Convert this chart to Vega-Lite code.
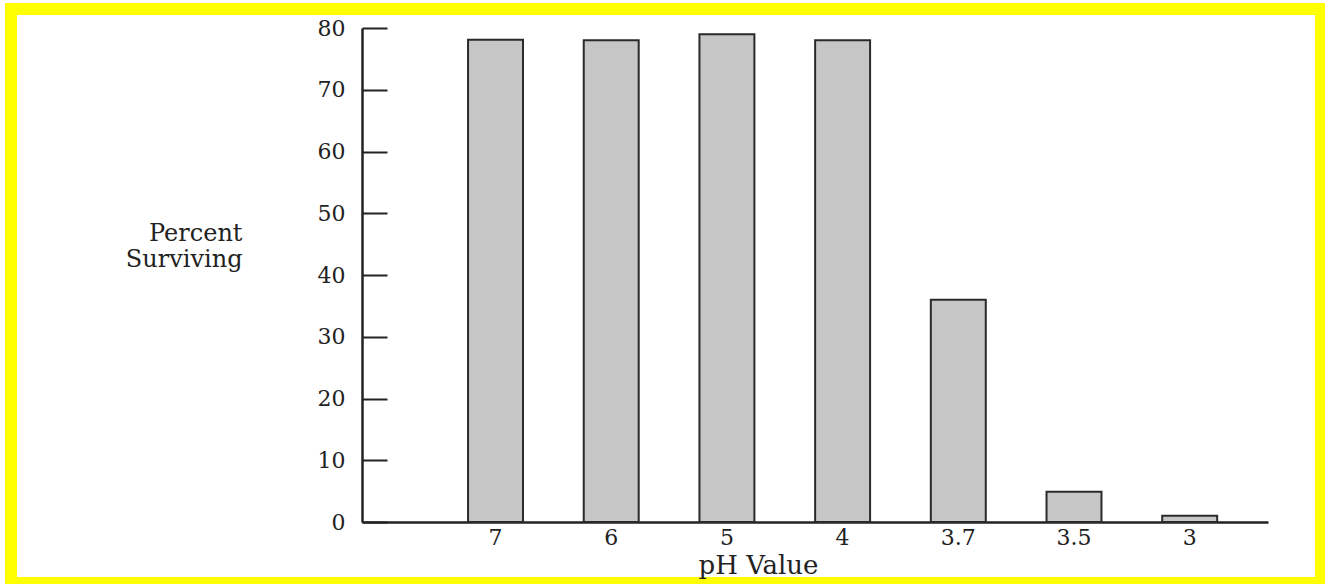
{
  "$schema": "https://vega.github.io/schema/vega-lite/v6.json",
  "width": 1310,
  "height": 574,
  "autosize": {"type": "none"},
  "padding": {"left": 11, "top": 9, "right": 4, "bottom": 1},
  "background": "white",
  "config": {
    "view": {"stroke": "#ffff00", "strokeWidth": 12, "fill": "white"},
    "axis": {
      "labelFont": "DejaVu Serif",
      "titleFont": "DejaVu Serif",
      "labelColor": "#222222",
      "titleColor": "#222222",
      "domainColor": "#222222",
      "tickColor": "#222222",
      "grid": false
    }
  },
  "data": {
    "values": [
      {"ph": "7", "pct": 78.1},
      {"ph": "6", "pct": 78},
      {"ph": "5", "pct": 79},
      {"ph": "4", "pct": 78},
      {"ph": "3.7", "pct": 36},
      {"ph": "3.5", "pct": 4.9},
      {"ph": "3", "pct": 1}
    ]
  },
  "mark": {"type": "bar", "fill": "#c6c6c6", "stroke": "#2a2a2a", "strokeWidth": 2},
  "encoding": {
    "x": {
      "field": "ph",
      "type": "nominal",
      "sort": ["7", "6", "5", "4", "3.7", "3.5", "3"],
      "scale": {"range": [351, 1257], "paddingInner": 0.525, "paddingOuter": 0.678, "align": 0.676},
      "axis": {
        "orient": "bottom",
        "offset": -61,
        "ticks": false,
        "domainWidth": 2.5,
        "labelAngle": 0,
        "labelPadding": 5,
        "labelFontSize": 22,
        "title": "pH Value",
        "titleFontSize": 26,
        "titleFontWeight": "normal",
        "titleX": 747,
        "titleY": 43,
        "titleBaseline": "middle",
        "titleAnchor": "start",
        "titleAlign": "center"
      }
    },
    "y": {
      "field": "pct",
      "type": "quantitative",
      "scale": {"domain": [0, 80], "range": [513, 19], "nice": false, "zero": true},
      "axis": {
        "orient": "left",
        "offset": -351,
        "values": [0, 10, 20, 30, 40, 50, 60, 70, 80],
        "tickSize": -25,
        "tickWidth": 2,
        "domainWidth": 2.5,
        "labelPadding": 42,
        "labelFontSize": 22,
        "title": ["Percent", "Surviving"],
        "titleAngle": 0,
        "titleAlign": "right",
        "titleBaseline": "middle",
        "titleX": -120,
        "titleY": 224,
        "titleFontSize": 24,
        "titleFontWeight": "normal",
        "titleLineHeight": 26
      }
    }
  }
}
